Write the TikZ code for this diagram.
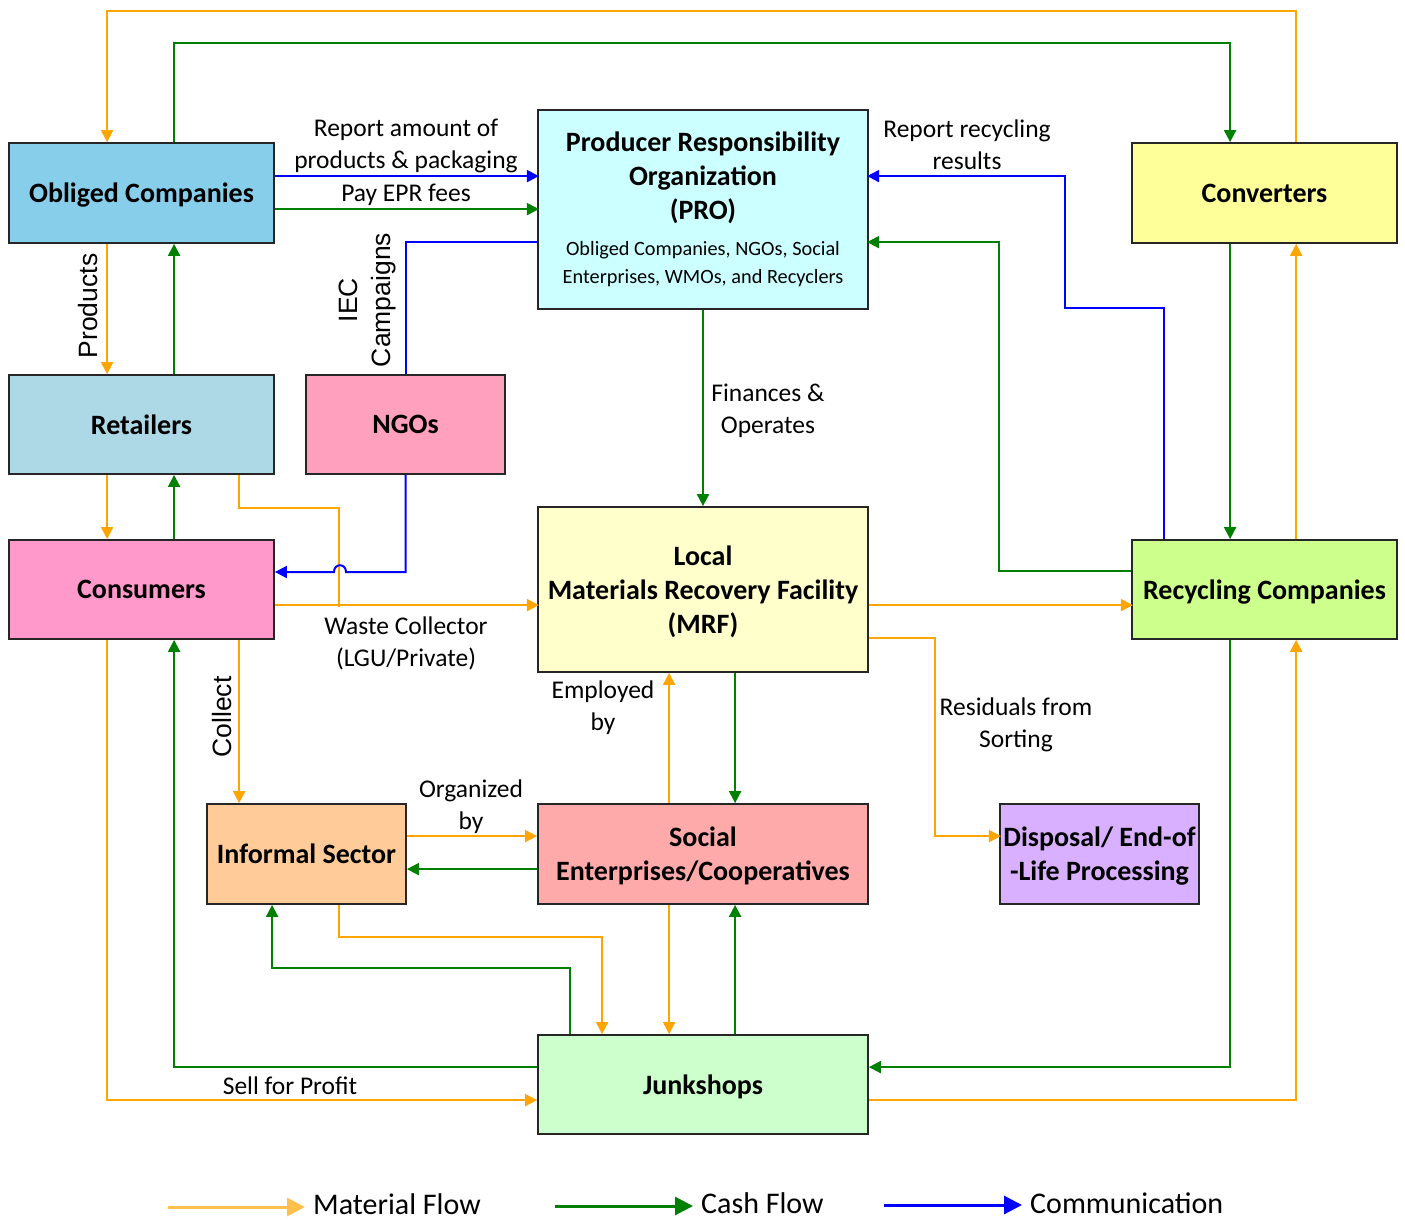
\documentclass[tikz,border=0pt]{standalone}
\usepackage{fontspec}
\setmainfont{Carlito}
\newfontfamily\arialf{Liberation Sans}
\usetikzlibrary{arrows.meta}
\definecolor{matC}{RGB}{255,165,0}
\definecolor{cashC}{RGB}{0,128,0}
\definecolor{commC}{RGB}{0,0,255}
\definecolor{legM}{RGB}{255,192,77}
\definecolor{boxline}{RGB}{38,38,38}
\definecolor{cObl}{RGB}{135,206,235}
\definecolor{cPro}{RGB}{204,255,255}
\definecolor{cConv}{RGB}{255,255,153}
\definecolor{cRet}{RGB}{173,216,230}
\definecolor{cNgo}{RGB}{255,160,190}
\definecolor{cCons}{RGB}{255,153,204}
\definecolor{cMrf}{RGB}{255,255,204}
\definecolor{cRec}{RGB}{204,255,140}
\definecolor{cInf}{RGB}{255,204,153}
\definecolor{cSoc}{RGB}{255,170,170}
\definecolor{cDisp}{RGB}{216,176,255}
\definecolor{cJunk}{RGB}{204,255,204}
\begin{document}
\begin{tikzpicture}[x=1pt,y=-1pt,
  box/.style 2 args={draw=boxline, line width=1.8pt, minimum width=#1, minimum height=#2,
    inner sep=1pt, text depth=0pt, align=center, font=\fontsize{28}{34}\selectfont\bfseries},
  tip/.style={-{Triangle[length=12pt,width=12pt]}},
  mat/.style={draw=matC, line width=2pt, tip},
  matline/.style={draw=matC, line width=2pt},
  cash/.style={draw=cashC, line width=2pt, tip},
  comm/.style={draw=commC, line width=2pt, tip},
  commline/.style={draw=commC, line width=2pt},
  lbl/.style={inner sep=0pt, align=center, font=\fontsize{25.5}{32}\selectfont},
  rlbl/.style={inner sep=0pt, align=center, rotate=90, font=\arialf\fontsize{26.5}{33}\selectfont},
  leg/.style={inner sep=0pt, anchor=west, font=\fontsize{30}{36}\selectfont},
  legtip/.style={-{Triangle[length=18pt,width=18pt]}, line width=3pt}
]
\useasboundingbox (0,0) rectangle (1405,1220);

% boxes
\node[box={265pt}{100pt}, fill=cObl] (obl) at (141.5,193) {Obliged Companies};
\node[box={330pt}{199pt}, fill=cPro] (pro) at (703,209.5) {};
\node[box={265pt}{100pt}, fill=cConv] (conv) at (1264.5,193) {Converters};
\node[box={265pt}{99pt}, fill=cRet] (ret) at (141.5,424.5) {Retailers};
\node[box={199pt}{99pt}, fill=cNgo] (ngo) at (405.5,424.5) {NGOs};
\node[box={265pt}{99pt}, fill=cCons] (cons) at (141.5,589.5) {Consumers};
\node[box={330pt}{165pt}, fill=cMrf] (mrf) at (703,589.5) {Local\\Materials Recovery Facility\\(MRF)};
\node[box={265pt}{99pt}, fill=cRec] (rec) at (1264.5,589.5) {Recycling Companies};
\node[box={199pt}{100pt}, fill=cInf] (inf) at (306.5,854) {Informal Sector};
\node[box={330pt}{100pt}, fill=cSoc] (soc) at (703,854) {Social\\Enterprises/Cooperatives};
\node[box={199pt}{100pt}, fill=cDisp] (disp) at (1099.5,854) {Disposal/ End-of\\-Life Processing};
\node[box={330pt}{99pt}, fill=cJunk] (junk) at (703,1084.5) {Junkshops};

\node[inner sep=0pt, align=center, font=\fontsize{28}{34}\selectfont\bfseries] (protitle) at (703,178)
  {Producer Responsibility\\Organization\\(PRO)};
\node[inner sep=0pt, align=center, font=\fontsize{20.3}{28}\selectfont] (prosub) at (703,264)
  {Obliged Companies, NGOs, Social\\Enterprises, WMOs, and Recyclers};

% connectors
\draw[mat] ([xshift=165pt]conv.north west) -- ++(0,-131) -| ([xshift=99pt]obl.north west);
\draw[cash] ([xshift=166pt]obl.north west) -- ++(0,-99) -| ([xshift=99pt]conv.north west);
\draw[comm] ([yshift=-34pt]obl.north east) -- ++(264,0);
\draw[cash] ([yshift=-67pt]obl.north east) -- ++(264,0);
\draw[commline] ([yshift=-133pt]pro.north west) -| (ngo.north);
\draw[mat] ([xshift=99pt]obl.south west) -- ([xshift=99pt]ret.north west);
\draw[cash] ([xshift=166pt]ret.north west) -- ([xshift=166pt]obl.south west);
\draw[mat] ([xshift=99pt]ret.south west) -- ([xshift=99pt]cons.north west);
\draw[cash] ([xshift=166pt]cons.north west) -- ([xshift=166pt]ret.south west);
\draw[matline] ([xshift=231pt]ret.south west) -- ++(0,33) -- ++(100,0) -- ++(0,99);
\coordinate (hopR) at (346,572);
\coordinate (hopL) at (334,572);
\draw[comm] (ngo.south) |- (hopR) .. controls ([yshift=9pt]hopR) and ([yshift=9pt]hopL) .. (hopL) -- (cons.east |- hopL);
\draw[mat] ([yshift=-66pt]cons.north east) -- ++(264,0);
\draw[cash] (pro.south) -- (mrf.north);
\draw[comm] ([xshift=33pt]rec.north west) -- ++(0,-231) -- ++(-99,0) -- ++(0,-132) -- ++(-198,0);
\draw[cash] ([yshift=-32pt]rec.north west) -- ++(-132,0) -- ++(0,-329) -- ++(-132,0);
\draw[cash] ([xshift=99pt]conv.south west) -- ([xshift=99pt]rec.north west);
\draw[mat] ([xshift=165pt]rec.north west) -- ([xshift=165pt]conv.south west);
\draw[mat] ([yshift=-99pt]mrf.north east) -- ++(264,0);
\draw[mat] ([yshift=-132pt]mrf.north east) -- ++(66,0) -- ++(0,198) -- ++(66,0);
\draw[mat] ([xshift=132pt]soc.north west) -- ([xshift=132pt]mrf.south west);
\draw[cash] ([xshift=198pt]mrf.south west) -- ([xshift=198pt]soc.north west);
\draw[mat] ([xshift=231pt]cons.south west) -- ([xshift=33pt]inf.north west);
\draw[mat] ([yshift=-33pt]inf.north east) -- ([yshift=-33pt]soc.north west);
\draw[cash] ([yshift=-66pt]soc.north west) -- ([yshift=-66pt]inf.north east);
\draw[mat] ([xshift=133pt]inf.south west) -- ++(0,32) -| ([xshift=65pt]junk.north west);
\draw[cash] ([xshift=33pt]junk.north west) -- ++(0,-66) -| ([xshift=66pt]inf.south west);
\draw[mat] ([xshift=132pt]soc.south west) -- ([xshift=132pt]junk.north west);
\draw[cash] ([xshift=198pt]junk.north west) -- ([xshift=198pt]soc.south west);
\draw[cash] ([yshift=-33pt]junk.north west) -| ([xshift=166pt]cons.south west);
\draw[mat] ([xshift=99pt]cons.south west) |- ([yshift=-66pt]junk.north west);
\draw[cash] ([xshift=99pt]rec.south west) |- ([yshift=-33pt]junk.north east);
\draw[mat] ([yshift=-66pt]junk.north east) -| ([xshift=165pt]rec.south west);

% labels
\node[lbl] (lRep) at (406,146) {Report amount of\\products \& packaging};
\node[lbl] (lPay) at (406,195) {Pay EPR fees};
\node[rlbl] (lIEC) at (367,300) {IEC\\Campaigns};
\node[rlbl] (lProd) at (88,306) {Products};
\node[lbl] (lRR) at (967,145) {Report recycling\\results};
\node[lbl] (lFin) at (768,411) {Finances \&\\Operates};
\node[lbl] (lWC) at (406,643) {Waste Collector\\(LGU/Private)};
\node[lbl] (lEmp) at (603,708) {Employed\\by};
\node[lbl] (lRes) at (1016,725) {Residuals from\\Sorting};
\node[rlbl] (lCol) at (222,717) {Collect};
\node[lbl] (lOrg) at (471,807) {Organized\\by};
\node[lbl] (lSell) at (290,1086) {Sell for Profit};

% legend
\coordinate (lgM1) at (168,1207); \coordinate (lgM2) at (305,1207);
\coordinate (lgC1) at (555,1206); \coordinate (lgC2) at (693,1206);
\coordinate (lgB1) at (884,1205); \coordinate (lgB2) at (1022,1205);
\draw[legtip, draw=legM, fill=legM] (lgM1) -- (lgM2);
\draw[legtip, draw=cashC] (lgC1) -- (lgC2);
\draw[legtip, draw=commC] (lgB1) -- (lgB2);
\node[leg] (tM) at (313,1204) {Material Flow};
\node[leg] (tC) at (701,1203) {Cash Flow};
\node[leg] (tB) at (1030,1203) {Communication};
\end{tikzpicture}
\end{document}
